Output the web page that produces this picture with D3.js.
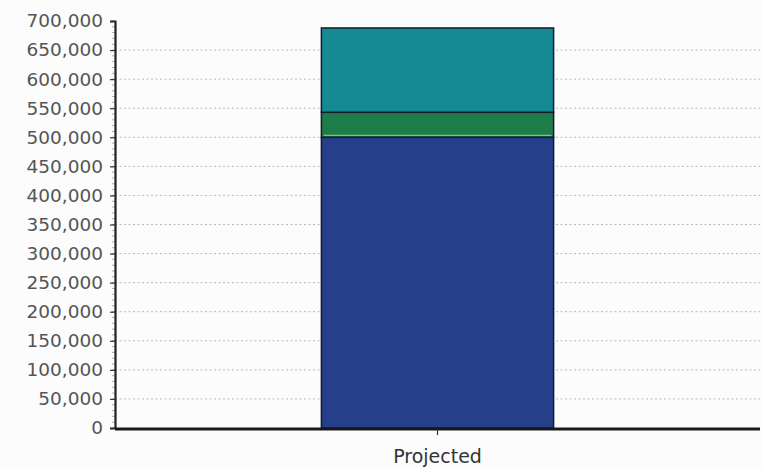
<!DOCTYPE html>
<html><head><meta charset="utf-8">
<script src="https://cdn.jsdelivr.net/npm/d3@7"></script>
<style>body{margin:0;background:#fcfcfc;}svg{display:block;}</style>
</head><body>
<svg id="c" width="762" height="469"></svg>
<script>
const categories = ["Projected"];
const seriesNames = ["Base", "Middle", "Top"];
const baseValues = [500000];
const middleValues = [43000];
const topValues = [145000];
const tickValues = [0,50000,100000,150000,200000,250000,300000,350000,400000,450000,500000,550000,600000,650000,700000];
const colors = ["#263f8a", "#1d7c47", "#168a93"];

const svg = d3.select("#c");
const mLeft = 115, mRight = 760, mTop = 21, mBottom = 428;

const y = d3.scaleLinear().domain([0, 700000]).range([mBottom, mTop]);
const x = d3.scaleBand().domain(categories).range([mLeft, mRight]).paddingInner(0.64).paddingOuter(0.32);

// gridlines
svg.append("g").selectAll("line").data(tickValues.filter(d => d > 0 && d < 700000)).join("line")
  .attr("x1", mLeft).attr("x2", mRight)
  .attr("y1", d => y(d)).attr("y2", d => y(d))
  .attr("stroke", "#a8a8a8").attr("stroke-width", 0.8).attr("stroke-dasharray", "2,2.5");

// stacked data
const rows = categories.map((c, i) => ({cat: c, Base: baseValues[i], Middle: middleValues[i], Top: topValues[i]}));
const stack = d3.stack().keys(seriesNames)(rows);
svg.append("g").selectAll("g").data(stack).join("g")
  .attr("fill", (d, i) => colors[i])
  .selectAll("rect").data(d => d).join("rect")
  .attr("x", d => x(d.data.cat))
  .attr("width", x.bandwidth())
  .attr("y", d => y(d[1]))
  .attr("height", d => y(d[0]) - y(d[1]))
  .attr("stroke", "#151a2a").attr("stroke-width", 1.5);

// highlight line on top of base segment
svg.append("line")
  .attr("x1", x(categories[0]) + 2).attr("x2", x(categories[0]) + x.bandwidth() - 2)
  .attr("y1", y(baseValues[0]) - 2).attr("y2", y(baseValues[0]) - 2)
  .attr("stroke", "#b9c98a").attr("stroke-width", 1);

// minor ticks
const minor = d3.range(0, 700001, 10000);
svg.append("g").selectAll("line").data(minor).join("line")
  .attr("x1", mLeft - 3).attr("x2", mLeft)
  .attr("y1", d => y(d)).attr("y2", d => y(d))
  .attr("stroke", "#888").attr("stroke-width", 0.7);

// y axis
const yAxis = d3.axisLeft(y).tickValues(tickValues).tickFormat(d3.format(",")).tickSize(5).tickPadding(7);
const gy = svg.append("g").attr("transform", `translate(${mLeft},0)`).call(yAxis);
gy.select(".domain").attr("stroke", "#222").attr("stroke-width", 2.2);
gy.selectAll(".tick line").attr("stroke", "#333").attr("stroke-width", 1.2);
gy.selectAll(".tick text").attr("font-family", "DejaVu Sans, Verdana, sans-serif").attr("font-size", 18.5).attr("fill", "#555");

// x axis
const xAxis = d3.axisBottom(x).tickSize(6).tickPadding(15);
const gx = svg.append("g").attr("transform", `translate(0,${mBottom + 1})`).call(xAxis);
gx.select(".domain").attr("stroke", "#181818").attr("stroke-width", 3).attr("d", `M${mLeft},0H${mRight}`);
gx.selectAll(".tick line").attr("stroke", "#333").attr("stroke-width", 1.2);
gx.selectAll(".tick text").attr("font-family", "DejaVu Sans, Tahoma, sans-serif").attr("font-size", 19).attr("fill", "#333");
</script>
</body></html>
